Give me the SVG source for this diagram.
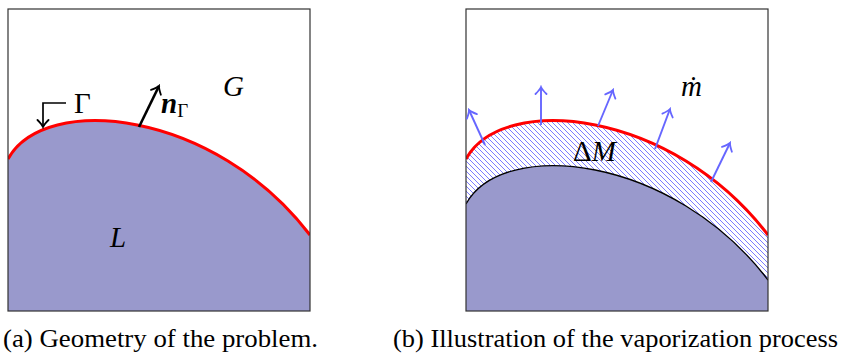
<svg xmlns="http://www.w3.org/2000/svg" width="841" height="354" viewBox="0 0 841 354">
  <style>
    .frame { fill: none; stroke: #333; stroke-width: 1.2; }
    .liquid { fill: #9999cc; stroke: none; }
    .iface { fill: none; stroke: #ff0000; stroke-width: 3; }
    .inner { fill: none; stroke: #000; stroke-width: 1.3; }
    .blue { fill: none; stroke: #6666ff; stroke-width: 1.9; marker-end: url(#bhead); }
    .blk { fill: none; stroke: #000; stroke-width: 1.7; marker-end: url(#khead); }
    .thick { stroke-width: 2.6; }
    .lbl { font-family: 'Liberation Serif', 'Times New Roman', serif; font-size: 29px; fill: #000; }
    .it { font-style: italic; }
    .cap { font-family: 'Liberation Serif', 'Times New Roman', serif; font-size: 25px; fill: #000; }
  </style>
  <defs>
    <pattern id="hatch" patternUnits="userSpaceOnUse" width="5" height="5">
      <path d="M0,0 L5,5 M-1,4 L1,6 M4,-1 L6,1" stroke="#5a5aff" stroke-width="0.8" fill="none"/>
    </pattern>
    <marker id="bhead" viewBox="-9 -7 11 14" refX="0" refY="0" markerWidth="11" markerHeight="14" markerUnits="userSpaceOnUse" orient="auto">
      <path d="M-7,-5.5 Q-2.5,-1 0,0 Q-2.5,1 -7,5.5" fill="none" stroke="#6666ff" stroke-width="1.8" stroke-linecap="round"/>
    </marker>
    <marker id="khead" viewBox="-9 -7 11 14" refX="0" refY="0" markerWidth="11" markerHeight="14" markerUnits="userSpaceOnUse" orient="auto">
      <path d="M-7,-5.5 Q-2.5,-1 0,0 Q-2.5,1 -7,5.5" fill="none" stroke="#000" stroke-width="1.8" stroke-linecap="round"/>
    </marker>
    <clipPath id="clipA"><rect x="8" y="9" width="302" height="302"/></clipPath>
    <clipPath id="clipB"><rect x="466" y="9" width="302" height="302"/></clipPath>
  </defs>

  <g id="panel-a">
    <g clip-path="url(#clipA)">
      <path class="liquid" d="M8,159 C45,92 215,110 310,235 L310,311 L8,311 Z"/>
      <path class="iface" d="M8,159 C45,92 215,110 310,235"/>
    </g>
    <rect class="frame" x="8" y="9" width="302" height="302"/>
    <text class="lbl it" x="223" y="96">G</text>
    <text class="lbl it" x="110" y="247">L</text>
    <text class="lbl" x="74" y="113">Γ</text>
    <text class="lbl" x="161" y="113"><tspan font-weight="bold" font-style="italic">n</tspan><tspan font-size="19" dy="4">Γ</tspan></text>
    <text class="cap" x="3" y="347" textLength="315" lengthAdjust="spacingAndGlyphs">(a) Geometry of the problem.</text>
  </g>

  <g id="panel-b">
    <g clip-path="url(#clipB)">
      <path class="liquid" d="M466,204 C503,137 673,155 768,280 L768,311 L466,311 Z"/>
      <path fill="url(#hatch)" stroke="none" d="M466,159 C503,92 673,110 768,235 L768,280 C673,155 503,137 466,204 Z"/>
      <path class="inner" d="M466,204 C503,137 673,155 768,280"/>
      <path class="iface" d="M466,159 C503,92 673,110 768,235"/>
    </g>
    <rect class="frame" x="466" y="9" width="302" height="302"/>
    <text class="lbl" x="573" y="161">Δ<tspan font-style="italic">M</tspan></text>
    <text class="lbl it" x="681" y="96">ṁ</text>
    <text class="cap" x="393" y="347" textLength="445" lengthAdjust="spacingAndGlyphs">(b) Illustration of the vaporization process</text>
  </g>

  <g id="connectors">
    <path class="blk thick" d="M139,127 L159,86"/>
    <path class="blk" d="M66,103 L43,103 L43,127"/>
    <path class="blue" d="M485,145 L469,110"/>
    <path class="blue" d="M541,125 L541,87"/>
    <path class="blue" d="M598,126 L613,90"/>
    <path class="blue" d="M655,149 L670,109"/>
    <path class="blue" d="M711,182 L730,143"/>
  </g>
</svg>
